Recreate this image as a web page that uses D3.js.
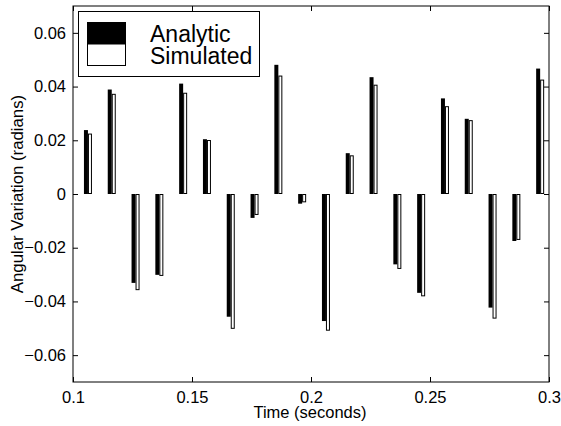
<!DOCTYPE html>
<html>
<head>
<meta charset="utf-8">
<script src="https://cdn.jsdelivr.net/npm/d3@7"></script>
<style>
  html, body { margin: 0; padding: 0; background: #fff; }
  svg { display: block; }
  text { font-family: "Liberation Sans", Arial, Helvetica, sans-serif; fill: #000; }
</style>
</head>
<body>
<svg id="chart" width="561" height="426"></svg>
<script>
// ---- data ----
const times = [0.105, 0.115, 0.125, 0.135, 0.145, 0.155, 0.165, 0.175, 0.185, 0.195,
               0.205, 0.215, 0.225, 0.235, 0.245, 0.255, 0.265, 0.275, 0.285, 0.295];
const analytic = [0.0238, 0.0389, -0.0331, -0.0301, 0.0411, 0.0204, -0.0457, -0.0089, 0.0481, -0.0036,
                  -0.0473, 0.0152, 0.0435, -0.0262, -0.0368, 0.0356, 0.0280, -0.0423, -0.0175, 0.0467];
const simulated = [0.0225, 0.0373, -0.0358, -0.0305, 0.0377, 0.0201, -0.0502, -0.0078, 0.0441, -0.0031,
                   -0.0509, 0.0144, 0.0407, -0.0279, -0.0381, 0.0327, 0.0275, -0.0464, -0.0171, 0.0426];
const xTicks = [0.1, 0.15, 0.2, 0.25, 0.3];
const xTickLabels = ["0.1", "0.15", "0.2", "0.25", "0.3"];
const yTicks = [-0.06, -0.04, -0.02, 0, 0.02, 0.04, 0.06];
const yTickLabels = ["\u22120.06", "\u22120.04", "\u22120.02", "0", "0.02", "0.04", "0.06"];
const seriesNames = ["Analytic", "Simulated"];

// ---- layout ----
const svg = d3.select("#chart");
const L = 73, R = 549, T = 6, B = 382;
const x = d3.scaleLinear().domain([0.1, 0.3]).range([L, R]);
const y = d3.scaleLinear().domain([-0.07, 0.07]).range([B, T]);
const tickLen = 5;
const fontTick = 16.5;

// bars: black (analytic) then white (simulated) side by side
const bw = 0.00168; // bar width in data units (~4px)
const off0 = -0.0004;
const g = svg.append("g");
times.forEach((t, i) => {
  const a = analytic[i], s = simulated[i];
  g.append("rect")
    .attr("x", x(t + off0))
    .attr("width", x(t + off0 + bw) - x(t + off0))
    .attr("y", y(Math.max(0, a)))
    .attr("height", Math.abs(y(a) - y(0)))
    .attr("fill", "#000");
  const x1 = x(t + off0 + bw), x2 = x(t + off0 + 2 * bw);
  g.append("rect")
    .attr("x", x1 + 0.5)
    .attr("width", x2 - x1 - 1)
    .attr("y", y(Math.max(0, s)) + 0.5)
    .attr("height", Math.max(0, Math.abs(y(s) - y(0)) - 1))
    .attr("fill", "#fff")
    .attr("stroke", "#000")
    .attr("stroke-width", 1);
});

// axes (box with inward ticks on all sides)
const axG = svg.append("g");
axG.append("rect").attr("x", L).attr("y", T).attr("width", R - L).attr("height", B - T)
  .attr("fill", "none").attr("stroke", "#000").attr("stroke-width", 1);

const axBottom = d3.axisBottom(x).tickValues(xTicks).tickSizeInner(-tickLen).tickSizeOuter(0)
  .tickPadding(9).tickFormat((d, i) => xTickLabels[i]);
const axTop = d3.axisTop(x).tickValues(xTicks).tickSizeInner(-tickLen).tickSizeOuter(0).tickFormat("");
const axLeft = d3.axisLeft(y).tickValues(yTicks).tickSizeInner(-tickLen).tickSizeOuter(0)
  .tickPadding(7).tickFormat((d, i) => yTickLabels[i]);
const axRight = d3.axisRight(y).tickValues(yTicks).tickSizeInner(-tickLen).tickSizeOuter(0).tickFormat("");

function style(sel) {
  sel.select(".domain").remove();
  sel.selectAll("line").attr("stroke", "#000");
  sel.selectAll("text").style("font-size", fontTick + "px")
    .style("font-family", "'Liberation Sans', Arial, sans-serif").attr("fill", "#000");
}
axG.append("g").attr("transform", `translate(0,${B})`).call(axBottom).call(style);
axG.append("g").attr("transform", `translate(0,${T})`).call(axTop).call(style);
axG.append("g").attr("transform", `translate(${L},0)`).call(axLeft).call(style);
axG.append("g").attr("transform", `translate(${R},0)`).call(axRight).call(style);

// axis titles
svg.append("text").attr("x", (L + R) / 2 - 1).attr("y", 418)
  .attr("text-anchor", "middle").style("font-size", "16.5px").text("Time (seconds)");
svg.append("text").attr("transform", `translate(23,${(T + B) / 2}) rotate(-90)`)
  .attr("text-anchor", "middle").style("font-size", "16.8px").text("Angular Variation (radians)");

// legend
const lg = svg.append("g");
lg.append("rect").attr("x", 78.5).attr("y", 11.5).attr("width", 181).attr("height", 65)
  .attr("fill", "#fff").attr("stroke", "#000");
lg.append("rect").attr("x", 87.5).attr("y", 22.5).attr("width", 38).attr("height", 43)
  .attr("fill", "#fff").attr("stroke", "#000");
lg.append("rect").attr("x", 87.5).attr("y", 22.5).attr("width", 38).attr("height", 21.5)
  .attr("fill", "#000").attr("stroke", "#000");
lg.append("text").attr("x", 150).attr("y", 42).style("font-size", "23px").text(seriesNames[0]);
lg.append("text").attr("x", 150).attr("y", 64).style("font-size", "23px").text(seriesNames[1]);
</script>
</body>
</html>
